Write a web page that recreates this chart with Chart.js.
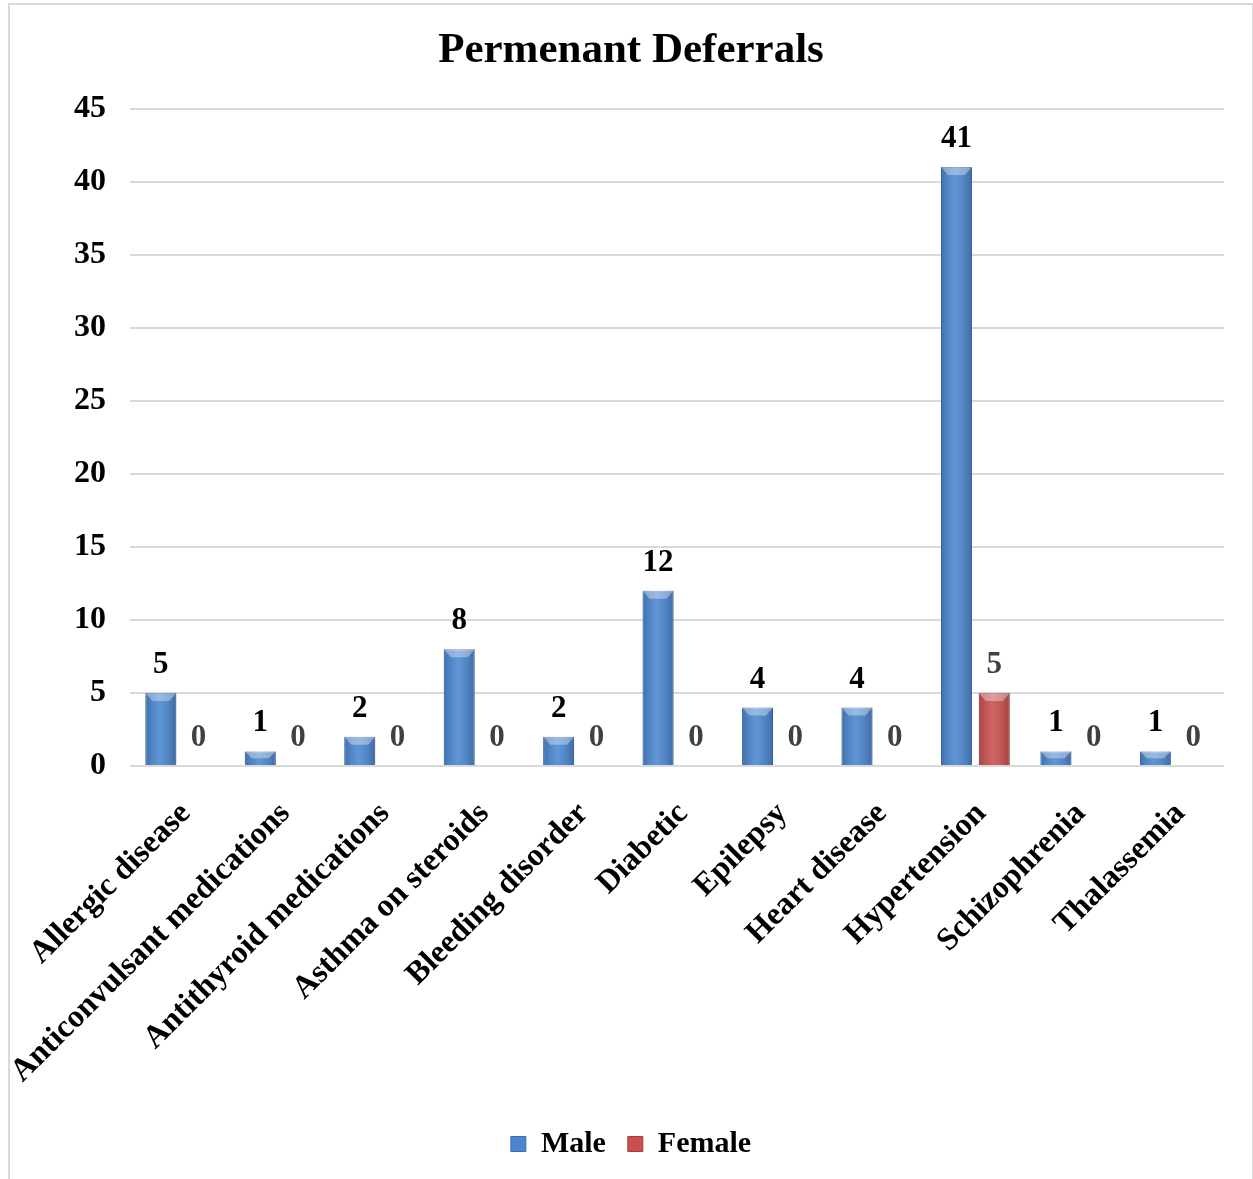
<!DOCTYPE html>
<html>
<head>
<meta charset="utf-8">
<script src="https://cdn.jsdelivr.net/npm/chart.js@4.4.1/dist/chart.umd.min.js"></script>
<style>
  html, body { margin: 0; padding: 0; background: #fff; overflow: hidden; }
  #frame {
    position: absolute; left: 8px; top: 3px; width: 1242px; height: 1200px;
    border: 2px solid #d9d9d9; border-bottom: none;
  }
  #wrap { position: absolute; left: 0; top: 0; width: 1242px; height: 1174px; }
</style>
</head>
<body>
<div id="frame"><div id="wrap"><canvas id="chart"></canvas></div></div>
<script>
const categories = ['Allergic disease', 'Anticonvulsant medications', 'Antithyroid medications',
  'Asthma on steroids', 'Bleeding disorder', 'Diabetic', 'Epilepsy', 'Heart disease',
  'Hypertension', 'Schizophrenia', 'Thalassemia'];
const maleValues = [5, 1, 2, 8, 2, 12, 4, 4, 41, 1, 1];
const femaleValues = [0, 0, 0, 0, 0, 0, 0, 0, 5, 0, 0];
const yTicks = [0, 5, 10, 15, 20, 25, 30, 35, 40, 45];

const serif = "'Liberation Serif', 'Times New Roman', serif";

// labels above bars + a bit of shading so bars look like the office bevel style
const barDecor = {
  id: 'barDecor',
  afterDatasetsDraw(chart) {
    const ctx = chart.ctx;
    chart.data.datasets.forEach((ds, di) => {
      const meta = chart.getDatasetMeta(di);
      meta.data.forEach((bar, i) => {
        const left = bar.x - bar.width / 2, right = bar.x + bar.width / 2;
        const top = bar.y, bottom = bar.base;
        if (bottom - top > 1) {
          ctx.save();
          const g = ctx.createLinearGradient(left, 0, right, 0);
          g.addColorStop(0, 'rgba(0,0,0,0.16)');
          g.addColorStop(0.45, 'rgba(255,255,255,0.12)');
          g.addColorStop(1, 'rgba(0,0,0,0.2)');
          ctx.fillStyle = g;
          ctx.fillRect(left, top, right - left, bottom - top);
          const bev = Math.min(8, (bottom - top) / 2);
          ctx.fillStyle = 'rgba(255,255,255,0.35)';
          ctx.beginPath();
          ctx.moveTo(left, top);
          ctx.lineTo(right, top);
          ctx.lineTo(right - 7, top + bev);
          ctx.lineTo(left + 7, top + bev);
          ctx.closePath();
          ctx.fill();
          ctx.restore();
        }
        ctx.save();
        ctx.font = 'bold 31px ' + serif;
        ctx.fillStyle = di === 0 ? '#000000' : '#404040';
        ctx.textAlign = 'center';
        ctx.textBaseline = 'middle';
        ctx.fillText(String(ds.data[i]), bar.x, bar.y - 28);
        ctx.restore();
      });
    });
  }
};

new Chart(document.getElementById('chart'), {
  type: 'bar',
  data: {
    labels: categories,
    datasets: [
      { label: 'Male', data: maleValues, backgroundColor: '#4a86d0', borderColor: '#3a6fb3', borderWidth: 1,
        categoryPercentage: 0.76, barPercentage: 0.82 },
      { label: 'Female', data: femaleValues, backgroundColor: '#c9504d', borderColor: '#a33e3b', borderWidth: 1,
        categoryPercentage: 0.76, barPercentage: 0.82 }
    ]
  },
  options: {
    responsive: true,
    maintainAspectRatio: false,
    animation: false,
    layout: { padding: { left: 28, right: 28, top: 0, bottom: 10 } },
    plugins: {
      title: {
        display: true, text: 'Permenant Deferrals', color: '#000',
        font: { family: serif, size: 43, weight: 'bold' },
        padding: { top: 20, bottom: 32 }
      },
      legend: {
        position: 'bottom',
        labels: {
          color: '#000', font: { family: serif, size: 30, weight: 'bold' },
          boxWidth: 15, boxHeight: 15, padding: 22
        }
      },
      tooltip: { enabled: false }
    },
    scales: {
      y: {
        min: 0, max: 45,
        afterBuildTicks(axis) { axis.ticks = yTicks.map(v => ({ value: v })); },
        ticks: { color: '#000', font: { family: serif, size: 32, weight: 'bold' }, padding: 24 },
        grid: { color: '#d9d9d9', lineWidth: 2, drawTicks: false },
        border: { display: false },
        afterFit(axis) { axis.width += 12; }
      },
      x: {
        ticks: { color: '#000', font: { family: serif, size: 32, weight: 'bold' },
          minRotation: 45, maxRotation: 45, padding: 21, labelOffset: 6 },
        grid: { display: false },
        border: { display: false },
        afterFit(axis) { axis.paddingLeft = 0; axis.paddingRight = 0; axis.height = 341; }
      }
    }
  },
  plugins: [barDecor]
});
</script>
</body>
</html>
